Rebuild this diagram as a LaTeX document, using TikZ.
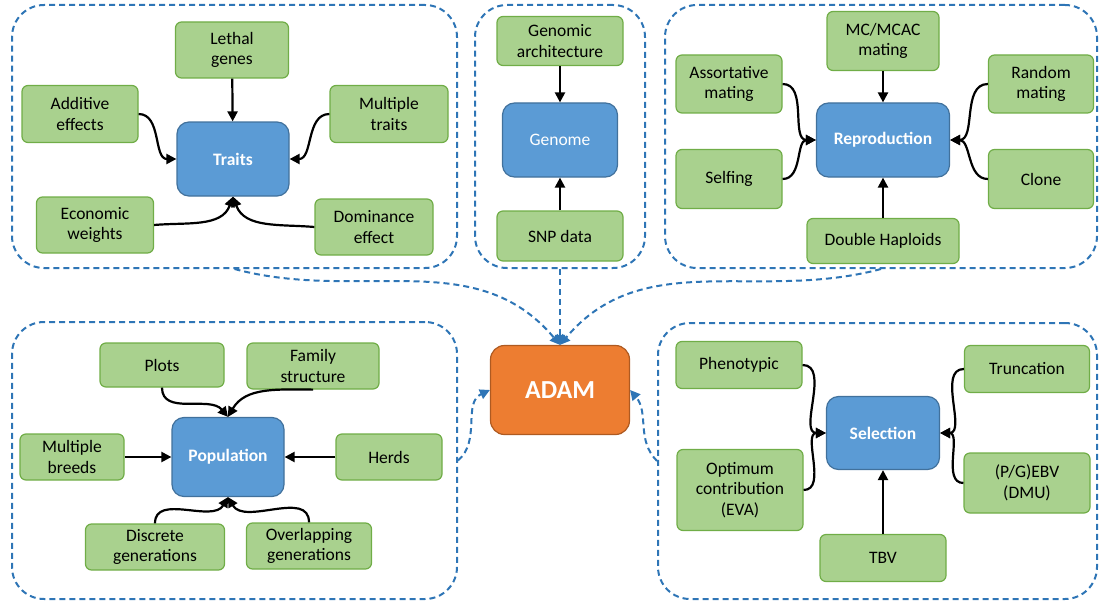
\documentclass[tikz,border=0pt]{standalone}
\usepackage{fontspec}
\setmainfont{Carlito}
\usetikzlibrary{arrows.meta,positioning}

\definecolor{leafgreen}{HTML}{A9D18E}
\definecolor{leafedge}{HTML}{70AD47}
\definecolor{hubblue}{HTML}{5B9BD5}
\definecolor{hubedge}{HTML}{41719C}
\definecolor{adamorange}{HTML}{ED7D31}
\definecolor{adamedge}{HTML}{AE5A21}
\definecolor{dashblue}{HTML}{2E75B6}

\begin{document}
\begin{tikzpicture}[x=1pt, y=1pt, >={Triangle[length=10pt,width=10pt]}]

\useasboundingbox (0,0) rectangle (1099,-607);

\tikzset{
    leaf/.style={rectangle, rounded corners=6pt, draw=leafedge, fill=leafgreen, line width=1.2pt,
        align=center, inner sep=0pt, text=black, font=\fontsize{17.5}{20.5}\selectfont},
    hub/.style={rectangle, rounded corners=12pt, draw=hubedge, fill=hubblue, line width=1.2pt,
        align=center, inner sep=0pt, text=white, font=\fontsize{17.5}{20.5}\selectfont\bfseries},
    group/.style={rectangle, rounded corners=32pt, draw=dashblue, line width=2pt, dash pattern=on 6pt off 4pt},
    feed/.style={->, line width=2.2pt, black},
    link/.style={->, draw=dashblue, line width=2pt, dash pattern=on 6pt off 4pt}
}

% Traits
\node[group, minimum width=445pt, minimum height=263pt] (traitsgrp) at (234.5,-136.5) {};
\node[hub, minimum width=112pt, minimum height=74pt] (traits) at (233,-159) {Traits};
\node[leaf, minimum width=113pt, minimum height=56pt] (lethal) at (232,-50) {Lethal\\genes};
\node[leaf, minimum width=116pt, minimum height=57pt] (additive) at (80,-114) {Additive\\effects};
\node[leaf, minimum width=118pt, minimum height=57pt] (multiple) at (389,-114) {Multiple\\traits};
\node[leaf, minimum width=117pt, minimum height=56pt] (economic) at (95,-225) {Economic\\weights};
\node[leaf, minimum width=118pt, minimum height=56pt] (dominance) at (374,-227) {Dominance\\effect};

\draw[feed] (lethal) -- (traits);
\draw[feed] (additive.east) to[out=0, in=180] (traits.west);
\draw[feed] (multiple.west) to[out=180, in=0] (traits.east);
\draw[feed] (economic.east) to[out=5, in=250] (traits.south);
\draw[feed] (dominance.west) to[out=175, in=290] (traits.south);

% Genome
\node[group, minimum width=170pt, minimum height=263pt] (genomegrp) at (560,-136.5) {};
\node[hub, minimum width=115pt, minimum height=74pt, font=\fontsize{17.5}{20.5}\selectfont] (genome) at (560,-140) {Genome};
\node[leaf, minimum width=126pt, minimum height=49pt] (genarch) at (560,-41) {Genomic\\architecture};
\node[leaf, minimum width=126pt, minimum height=50pt] (snp) at (560,-236) {SNP data};

\draw[feed] (genarch) -- (genome);
\draw[feed] (snp) -- (genome);

% Reproduction
\node[group, minimum width=432pt, minimum height=263pt] (reprogrp) at (881,-136.5) {};
\node[hub, minimum width=133pt, minimum height=74pt] (repro) at (883,-140) {Reproduction};
\node[leaf, minimum width=112pt, minimum height=59pt] (mcmac) at (883,-41) {MC/MCAC\\mating};
\node[leaf, minimum width=106pt, minimum height=58pt] (assort) at (729,-84) {Assortative\\mating};
\node[leaf, minimum width=105pt, minimum height=58pt] (random) at (1041,-84) {Random\\mating};
\node[leaf, minimum width=106pt, minimum height=59pt] (selfing) at (729,-179) {Selfing};
\node[leaf, minimum width=105pt, minimum height=59pt] (clone) at (1041,-179) {Clone};
\node[leaf, minimum width=152pt, minimum height=45pt] (haploid) at (883,-241) {Double Haploids};

\draw[feed] (mcmac) -- (repro);
\draw[feed] (haploid) -- (repro);
\draw[feed] (assort.east) to[out=0, in=180] (repro.west);
\draw[feed] (selfing.east) to[out=0, in=180] (repro.west);
\draw[feed] (random.west) to[out=180, in=0] (repro.east);
\draw[feed] (clone.west) to[out=180, in=0] (repro.east);

% Population
\node[group, minimum width=445pt, minimum height=277pt] (popgrp) at (234.5,-460.5) {};
\node[hub, minimum width=112pt, minimum height=79pt] (population) at (228,-457) {Population};
\node[leaf, minimum width=124pt, minimum height=44pt] (plots) at (162,-365) {Plots};
\node[leaf, minimum width=132pt, minimum height=46pt] (family) at (313,-366) {Family\\structure};
\node[leaf, minimum width=104pt, minimum height=46pt] (breeds) at (72,-457) {Multiple\\breeds};
\node[leaf, minimum width=106pt, minimum height=46pt] (herds) at (389,-457) {Herds};
\node[leaf, minimum width=139pt, minimum height=46pt] (discrete) at (155,-547) {Discrete\\generations};
\node[leaf, minimum width=125pt, minimum height=46pt] (overlap) at (309,-546) {Overlapping\\generations};

\draw[feed] (plots.south) to[out=-90, in=130] (population.north);
\draw[feed] (family.south) to[out=180, in=60] (population.north);
\draw[feed] (breeds) -- (population);
\draw[feed] (herds) -- (population);
\draw[feed] (discrete.north) to[out=90, in=240] (population.south);
\draw[feed] (overlap.north) to[out=90, in=300] (population.south);

% Selection
\node[group, minimum width=439pt, minimum height=276pt] (selgrp) at (877.5,-461) {};
\node[hub, minimum width=113pt, minimum height=73pt] (selection) at (883,-433) {Selection};
\node[leaf, minimum width=126pt, minimum height=47pt] (pheno) at (739,-365) {Phenotypic};
\node[leaf, minimum width=125pt, minimum height=47pt] (trunc) at (1027,-369) {Truncation};
\node[leaf, minimum width=126pt, minimum height=81pt] (optimum) at (740,-490) {Optimum\\contribution\\(EVA)};
\node[leaf, minimum width=126pt, minimum height=60pt] (pgebv) at (1027,-483) {(P/G)EBV\\(DMU)};
\node[leaf, minimum width=126pt, minimum height=47pt] (tbv) at (883,-558) {TBV};

\draw[feed] (pheno.east) to[out=0, in=180] (selection.west);
\draw[feed] (optimum.east) to[out=0, in=180] (selection.west);
\draw[feed] (trunc.west) to[out=180, in=0] (selection.east);
\draw[feed] (pgebv.west) to[out=180, in=0] (selection.east);
\draw[feed] (tbv) -- (selection);

% ADAM
\node[rectangle, rounded corners=14pt, draw=adamedge, fill=adamorange, line width=1.2pt,
    minimum width=139pt, minimum height=89pt, text=white,
    font=\fontsize{26}{30}\selectfont\bfseries] (adam) at (560,-390) {ADAM};

\draw[link] (traitsgrp.south) to[out=-15, in=130] (adam.north);
\draw[link] (genomegrp.south) -- (adam.north);
\draw[link] (reprogrp.south) to[out=195, in=50] (adam.north);
\draw[link] (popgrp.east) to[out=40, in=205] (adam.west);
\draw[link] (selgrp.west) to[out=135, in=-50] (adam.east);

\end{tikzpicture}
\end{document}
